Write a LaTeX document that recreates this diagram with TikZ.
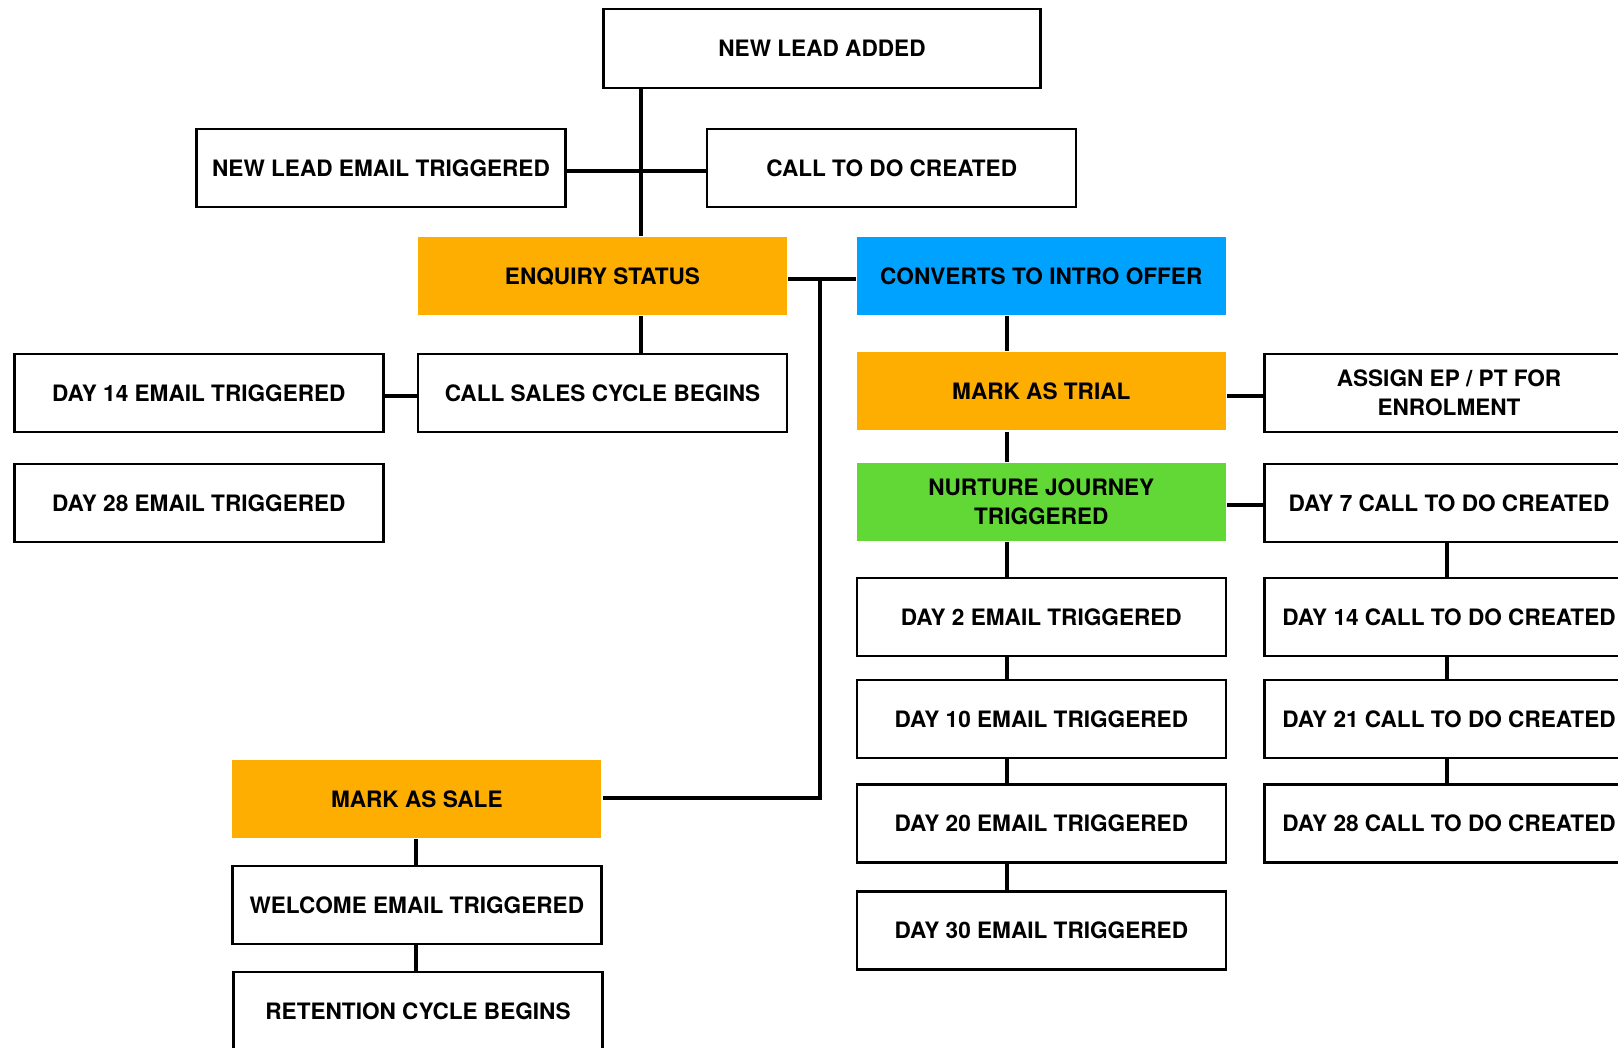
\documentclass[tikz,border=0pt]{standalone}
\usepackage{fontspec}
\newfontfamily\lblfont{TeX Gyre Heros}
\definecolor{korange}{HTML}{FEAE00}
\definecolor{kblue}{HTML}{00A2FF}
\definecolor{kgreen}{HTML}{61D836}
\definecolor{ktext}{HTML}{000000}
\begin{document}
\begin{tikzpicture}[x=1pt,y=-1pt,
  box/.style={draw=black, line width=2.4pt, fill=white, minimum width=369pt, minimum height=78pt,
    align=center, inner sep=0pt, text=ktext, font=\lblfont\bfseries\fontsize{22.6}{29}\selectfont},
  fillbox/.style={box, draw=none},
  orangebox/.style={fillbox, fill=korange},
  bluebox/.style={fillbox, fill=kblue},
  greenbox/.style={fillbox, fill=kgreen},
  link/.style={draw=black, line width=4pt}]
\useasboundingbox (0,0) rectangle (1618,1048);
\clip (0,0) rectangle (1618,1048);
\fill[white] (0,0) rectangle (1618,1048);

% connector guide coordinates
\coordinate (xa) at (641,0);
\coordinate (xb) at (820,0);
\coordinate (xc) at (1007,0);
\coordinate (xd) at (1447,0);
\coordinate (xe) at (416,0);
\coordinate (ya) at (0,170.7);
\coordinate (yb) at (0,278.7);
\coordinate (yc) at (0,396);
\coordinate (yd) at (0,505);
\coordinate (ye) at (0,797.7);

% nodes
\node[box, minimum width=437pt, minimum height=79pt] (newlead) at (822,48.5) {NEW LEAD ADDED};
\node[box] (leademail) at (381,168) {NEW LEAD EMAIL TRIGGERED};
\node[box] (calltodo) at (891.7,168) {CALL TO DO CREATED};
\node[orangebox] (enquiry) at (602.5,276.3) {ENQUIRY STATUS};
\node[bluebox] (converts) at (1041.3,276.3) {CONVERTS TO INTRO OFFER};
\node[box] (dayfourteenemail) at (198.8,393) {DAY 14 EMAIL TRIGGERED};
\node[box] (callsales) at (602.5,393) {CALL SALES CYCLE BEGINS};
\node[box] (daytwentyeightemail) at (198.8,503) {DAY 28 EMAIL TRIGGERED};
\node[orangebox] (trial) at (1041.3,391.5) {MARK AS TRIAL};
\node[box] (assign) at (1449,393) {ASSIGN EP / PT FOR\\ENROLMENT};
\node[greenbox] (nurture) at (1041.3,502.2) {NURTURE JOURNEY\\TRIGGERED};
\node[box] (daysevencall) at (1449,503) {DAY 7 CALL TO DO CREATED};
\node[box] (daytwo) at (1041.3,617) {DAY 2 EMAIL TRIGGERED};
\node[box] (dayten) at (1041.3,719) {DAY 10 EMAIL TRIGGERED};
\node[box] (daytwenty) at (1041.3,823.5) {DAY 20 EMAIL TRIGGERED};
\node[box] (daythirty) at (1041.3,930.5) {DAY 30 EMAIL TRIGGERED};
\node[box] (dayfourteencall) at (1449,617) {DAY 14 CALL TO DO CREATED};
\node[box] (daytwentyonecall) at (1449,719) {DAY 21 CALL TO DO CREATED};
\node[box] (daytwentyeightcall) at (1449,823.5) {DAY 28 CALL TO DO CREATED};
\node[orangebox] (sale) at (416.8,798.8) {MARK AS SALE};
\node[box] (welcome) at (416.8,905) {WELCOME EMAIL TRIGGERED};
\node[box] (retention) at (418,1011) {RETENTION CYCLE BEGINS};

% connectors
\draw[link] (newlead.south -| xa) -- (enquiry.north -| xa);
\draw[link] (leademail.east |- ya) -- (calltodo.west |- ya);
\draw[link] (enquiry.south -| xa) -- (callsales.north -| xa);
\draw[link] (enquiry.east |- yb) -- (converts.west |- yb);
\draw[link] (xb |- yb) -- (xb |- ye) -- (sale.east |- ye);
\draw[link] (dayfourteenemail.east |- yc) -- (callsales.west |- yc);
\draw[link] (converts.south -| xc) -- (trial.north -| xc);
\draw[link] (trial.east |- yc) -- (assign.west |- yc);
\draw[link] (trial.south -| xc) -- (nurture.north -| xc);
\draw[link] (nurture.east |- yd) -- (daysevencall.west |- yd);
\draw[link] (nurture.south -| xc) -- (daytwo.north -| xc);
\draw[link] (daytwo.south -| xc) -- (dayten.north -| xc);
\draw[link] (dayten.south -| xc) -- (daytwenty.north -| xc);
\draw[link] (daytwenty.south -| xc) -- (daythirty.north -| xc);
\draw[link] (daysevencall.south -| xd) -- (dayfourteencall.north -| xd);
\draw[link] (dayfourteencall.south -| xd) -- (daytwentyonecall.north -| xd);
\draw[link] (daytwentyonecall.south -| xd) -- (daytwentyeightcall.north -| xd);
\draw[link] (sale.south -| xe) -- (welcome.north -| xe);
\draw[link] (welcome.south -| xe) -- (retention.north -| xe);
\end{tikzpicture}
\end{document}
